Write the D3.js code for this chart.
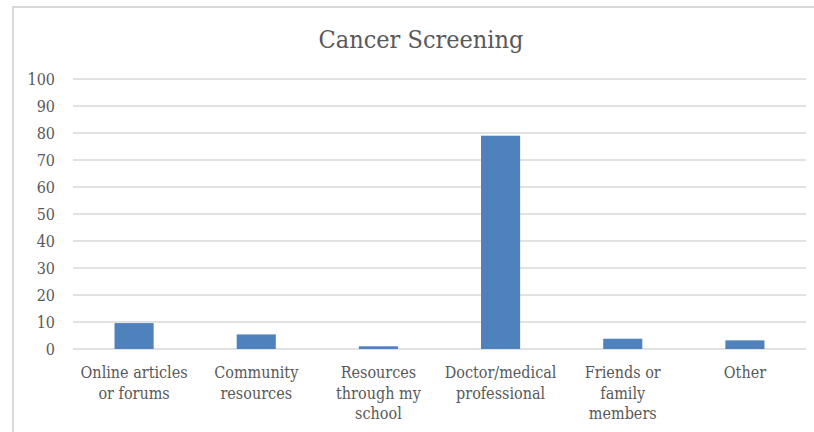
<!DOCTYPE html>
<html>
<head>
<meta charset="utf-8">
<script src="https://cdn.jsdelivr.net/npm/d3@7"></script>
<style>
  body { margin: 0; background: #fff; }
  text { font-family: "DejaVu Serif Condensed", "DejaVu Serif", serif; font-stretch: condensed; fill: #595959; }
</style>
</head>
<body>
<div class="chart"></div>
<script>
const categories = [
  ["Online articles", "or forums"],
  ["Community", "resources"],
  ["Resources", "through my", "school"],
  ["Doctor/medical", "professional"],
  ["Friends or", "family", "members"],
  ["Other"]
];
const values = [9.6, 5.4, 1.0, 79, 3.8, 3.2];
const yTicks = [0, 10, 20, 30, 40, 50, 60, 70, 80, 90, 100];
const title = "Cancer Screening";

const W = 814, H = 432;
const margin = { top: 79, right: 8, bottom: 83, left: 73 };

const svg = d3.select(".chart").append("svg")
    .attr("width", W)
    .attr("height", H);

// chart frame
svg.append("rect")
    .attr("x", 13).attr("y", 7)
    .attr("width", W).attr("height", H)
    .attr("fill", "none")
    .attr("stroke", "#d9d9d9")
    .attr("stroke-width", 2);

const x = d3.scaleBand()
    .domain(d3.range(categories.length))
    .range([margin.left, W - margin.right])
    .paddingInner(0.68)
    .paddingOuter(0.34);

const y = d3.scaleLinear()
    .domain([0, 100])
    .range([H - margin.bottom, margin.top]);

// gridlines
svg.append("g")
    .selectAll("line")
    .data(yTicks)
    .enter().append("line")
    .attr("x1", margin.left)
    .attr("x2", W - margin.right)
    .attr("y1", d => y(d))
    .attr("y2", d => y(d))
    .attr("stroke", "#d9d9d9")
    .attr("stroke-width", 1.5);

// y axis labels
svg.append("g")
    .attr("transform", `translate(${margin.left - 18}, 0)`)
    .call(d3.axisLeft(y).tickValues(yTicks).tickSize(0).tickPadding(0))
    .attr("font-size", 16)
    .call(g => g.select(".domain").remove())
    .call(g => g.selectAll("text")
        .attr("fill", "#595959"));

// bars
svg.selectAll(".bar")
    .data(values)
    .enter().append("rect")
    .attr("class", "bar")
    .attr("x", (d, i) => x(i))
    .attr("y", d => y(d))
    .attr("width", x.bandwidth())
    .attr("height", d => y(0) - y(d))
    .attr("fill", "#4f81bd");

// category labels
const labels = svg.selectAll(".catLabel")
    .data(categories)
    .enter().append("text")
    .attr("class", "catLabel")
    .attr("text-anchor", "middle")
    .style("font-size", "16px")
    .attr("transform", (d, i) => `translate(${x(i) + x.bandwidth() / 2}, ${y(0) + 29})`);

labels.selectAll("tspan")
    .data(d => d)
    .enter().append("tspan")
    .attr("x", 0)
    .attr("y", (d, i) => i * 20.5)
    .text(d => d);

// title
svg.append("text")
    .attr("x", 421)
    .attr("y", 48)
    .attr("text-anchor", "middle")
    .style("font-size", "25px")
    .text(title);
</script>
</body>
</html>
